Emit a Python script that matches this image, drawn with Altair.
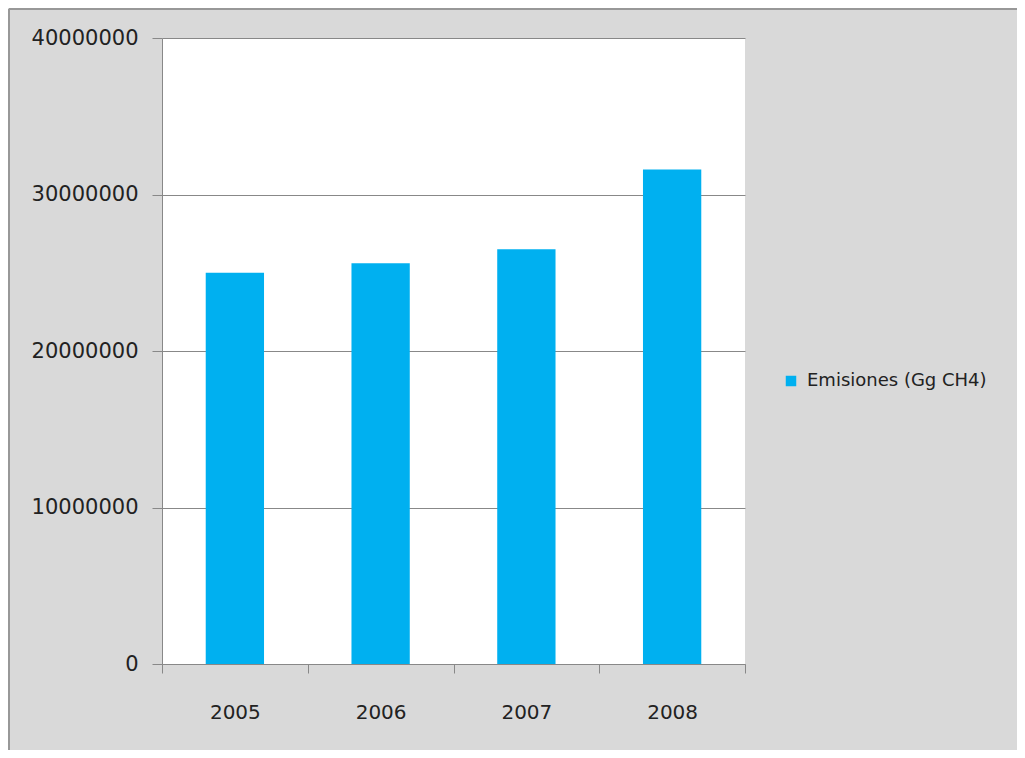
import altair as alt
import pandas as pd

years = ["2005", "2006", "2007", "2008"]
emissions = [25000000, 25600000, 26500000, 31600000]
series_name = "Emisiones (Gg CH4)"

df = pd.DataFrame({"year": years, "value": emissions, "series": [series_name] * len(years)})

FONT = "DejaVu Sans"
W, H = 583, 626
PAD = {"left": 154, "top": 30, "right": 272, "bottom": 86}

base = alt.Chart(df)

bars = base.mark_bar(color="#00b0f0", width=alt.RelativeBandSize(0.4)).encode(
    x=alt.X("year:N", title=None,
            scale=alt.Scale(paddingInner=0, paddingOuter=0),
            axis=alt.Axis(labelAngle=0, tickBand="extent", tickSize=9, tickColor="#888888",
                          domainColor="#888888", labelFontSize=20, labelFont=FONT,
                          labelColor="#222222", labelPadding=29, grid=False)),
    y=alt.Y("value:Q", title=None,
            scale=alt.Scale(domain=[0, 40000000], nice=False),
            axis=alt.Axis(values=[0, 10000000, 20000000, 30000000, 40000000], format="d",
                          tickSize=10, tickColor="#888888", domainColor="#888888",
                          gridColor="#888888", gridWidth=1, labelFontSize=21, labelFont=FONT,
                          labelColor="#222222", labelPadding=14)),
    color=alt.Color("series:N", scale=alt.Scale(range=["#00b0f0"]),
                    legend=alt.Legend(title=None, orient="none", legendX=620, legendY=334,
                                      symbolType="square", symbolSize=110, labelFont=FONT,
                                      labelFontSize=18, labelColor="#222222", labelOffset=7,
                                      labelLimit=400)),
)

left_edge = base.mark_rule(stroke="#999999", strokeWidth=1.5).encode(
    x=alt.value(-153), y=alt.value(-29), y2=alt.value(H + 120)
)
top_edge = base.mark_rule(stroke="#999999", strokeWidth=1.5).encode(
    x=alt.value(-153), x2=alt.value(W + 300), y=alt.value(-29)
)

chart = alt.layer(left_edge, top_edge, bars).properties(
    width=W, height=H,
    autosize=alt.AutoSizeParams(type="none"),
    padding=PAD,
    background="#d9d9d9",
).configure_view(fill="white", stroke=None)

chart.save("out.html", embed_options={"renderer": "svg", "actions": False})
